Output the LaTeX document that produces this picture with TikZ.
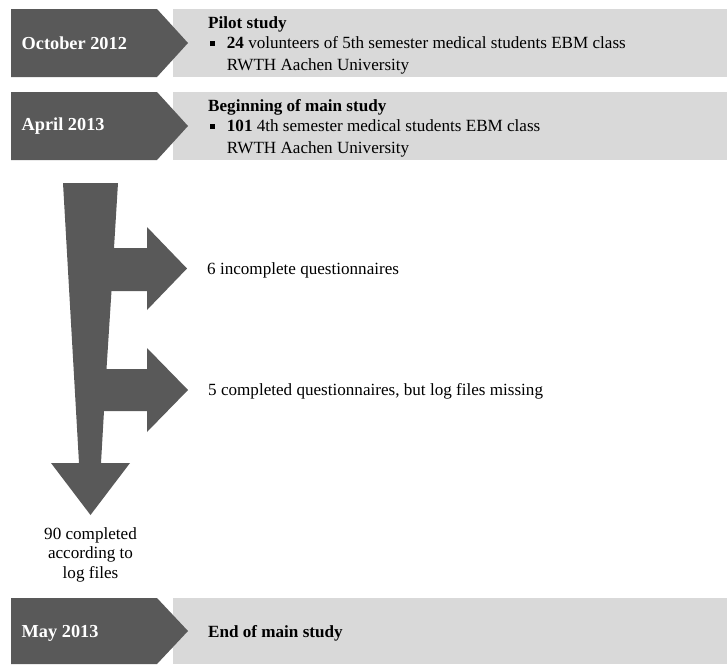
\documentclass[tikz,border=0pt]{standalone}
\usepackage{fontspec}
\setmainfont{Liberation Serif}
\definecolor{darkg}{HTML}{595959}
\definecolor{lightg}{HTML}{D9D9D9}
\begin{document}
\begin{tikzpicture}[x=1pt,y=-1pt,
  txt/.style={anchor=base west,inner sep=0pt,font=\fontsize{17.1}{21}\selectfont},
  datetxt/.style={anchor=west,inner sep=0pt,text=white,font=\fontsize{18.3}{21}\selectfont\bfseries},
  bul/.style={fill=black}]
\useasboundingbox (0,0) rectangle (727,664);
% rows
\foreach \t/\b/\n in {9/77/r1,92/160/r2,598/664/r3}{
  \fill[lightg] (173,\t) rectangle (727,\b);
  \fill[darkg] (11,\t) -- (157,\t) -- (188,{(\t+\b)/2}) -- (157,\b) -- (11,\b) -- cycle;
}
\node[datetxt] (d1) at (21.5,43) {October 2012};
\node[datetxt] (d2) at (21.5,126) {April 2013};
\node[datetxt] (d3) at (21.5,633) {May 2013};
% row 1 text
\node[txt,font=\fontsize{17.1}{21}\selectfont\bfseries] (p1) at (208,28) {Pilot study};
\fill[bul] (209.5,40.5) rectangle (215,46);
\node[txt] (p2) at (226.7,48.5) {\textbf{24} volunteers of 5th semester medical students EBM class};
\node[txt] (p3) at (226.7,70.5) {RWTH Aachen University};
% row 2 text
\node[txt,font=\fontsize{17.1}{21}\selectfont\bfseries] (m1) at (208,111) {Beginning of main study};
\fill[bul] (209.5,123.5) rectangle (215,129);
\node[txt] (m2) at (226.7,131.5) {\textbf{101} 4th semester medical students EBM class};
\node[txt] (m3) at (226.7,153.5) {RWTH Aachen University};
% row 3 text
\node[txt,anchor=west,font=\fontsize{17.1}{21}\selectfont\bfseries] (e1) at (208,633) {End of main study};
% flow arrow
\fill[darkg] (63,183) -- (118,183) -- (114,248) -- (147,248) -- (147,227) -- (187,268.5)
  -- (147,310) -- (147,291) -- (111.5,291) -- (106.5,369) -- (147,369) -- (147,348)
  -- (188,390) -- (147,432) -- (147,411) -- (104,411) -- (101,463) -- (130,463)
  -- (90.5,515) -- (51,463) -- (79,463) -- cycle;
\node[txt,anchor=west] (x1) at (207,270) {6 incomplete questionnaires};
\node[txt,anchor=west] (x2) at (208,391) {5 completed questionnaires, but log files missing};
\node[inner sep=0pt,align=center,font=\fontsize{17.1}{19.5}\selectfont,anchor=north] (f) at (90.5,527) {90 completed\\according to\\log files};
\end{tikzpicture}
\end{document}
